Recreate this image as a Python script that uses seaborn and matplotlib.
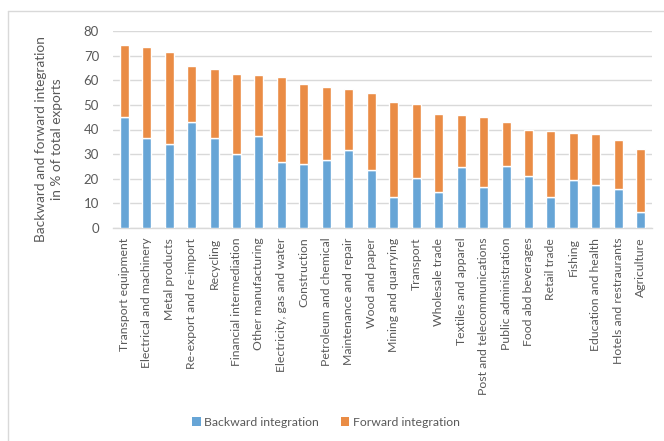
import matplotlib
matplotlib.use("Agg")
import matplotlib.pyplot as plt
import seaborn as sns
import numpy as np
import pandas as pd
from matplotlib.lines import Line2D
from matplotlib.patches import Patch

categories = [
    "Transport equipment", "Electrical and machinery", "Metal products",
    "Re-export and re-import", "Recycling", "Financial intermediation",
    "Other manufacturing", "Electricity, gas and water", "Construction",
    "Petroleum and chemical", "Maintenance and repair", "Wood and paper",
    "Mining and quarrying", "Transport", "Wholesale trade",
    "Textiles and apparel", "Post and telecommunications",
    "Public administration", "Food abd beverages", "Retail trade",
    "Fishing", "Education and health", "Hotels and restraurants",
    "Agriculture",
]
backward = [45.2, 36.7, 34.2, 43.0, 36.4, 29.9, 37.5, 26.9, 26.1, 27.6, 31.7,
            23.6, 12.7, 20.3, 14.5, 24.6, 16.8, 25.0, 21.0, 12.7, 19.5, 17.3,
            16.0, 6.5]
forward = [29.2, 36.7, 37.3, 22.9, 28.0, 32.8, 24.8, 34.3, 32.5, 29.8, 24.7,
           31.1, 38.3, 29.9, 31.7, 21.2, 28.3, 17.9, 18.9, 26.6, 18.9, 20.7,
           19.7, 25.6]
yticks = [0, 10, 20, 30, 40, 50, 60, 70, 80]

BLUE = "#67a5d6"
ORANGE = "#ea8c45"
GREY = "#595959"

sns.set_theme(style="white")
plt.rcParams["font.family"] = ["Lato", "DejaVu Sans"]

df = pd.DataFrame({"cat": categories, "backward": backward, "forward": forward})

fig = plt.figure(figsize=(6.64, 4.41), dpi=100)
ax = fig.add_axes([113 / 664, 1 - 228 / 441, (652 - 113) / 664, (228 - 31) / 441])

sns.barplot(data=df, x="cat", y="backward", color=BLUE, width=0.4,
            saturation=1, ax=ax, zorder=3)
sns.barplot(data=df, x="cat", y="forward", color=ORANGE, width=0.4,
            saturation=1, ax=ax, bottom=df["backward"].values, zorder=3)

ax.set_ylim(0, 80)
ax.set_xlim(-0.5, len(categories) - 0.5)
ax.set_yticks(yticks)
ax.yaxis.grid(True, color="#d9d9d9", linewidth=1, zorder=0)
ax.set_axisbelow(True)
for s in ["top", "right", "left"]:
    ax.spines[s].set_visible(False)
ax.spines["bottom"].set_color("#d9d9d9")
ax.spines["bottom"].set_linewidth(1)
ax.tick_params(axis="both", length=0, colors=GREY)
ax.tick_params(axis="y", labelsize=9.5, pad=10)
ax.set_xticks(range(len(categories)))
ax.set_xticklabels(categories, rotation=90, fontsize=8.8, color=GREY)
ax.tick_params(axis="x", pad=7)
ax.set_xlabel("")
ax.set_ylabel("")

fig.text(49 / 664, 1 - 139 / 441,
         "Backward and forward integration\nin % of total exports",
         rotation=90, ha="center", va="center", multialignment="center",
         fontsize=9.8, color=GREY, linespacing=1.35)

handles = [Patch(facecolor=BLUE, edgecolor="none"),
           Patch(facecolor=ORANGE, edgecolor="none")]
fig.legend(handles, ["Backward integration", "Forward integration"],
           loc="center", bbox_to_anchor=(326 / 664, 1 - 422 / 441), ncol=2,
           frameon=False, fontsize=8.8, handlelength=0.7, handleheight=0.7,
           handletextpad=0.3, columnspacing=1.8, labelcolor=GREY)

# outer chart border (left and top visible)
fig.add_artist(Line2D([8 / 664, 8 / 664], [0, 1 - 11 / 441],
                      transform=fig.transFigure, color="#d9d9d9", linewidth=1))
fig.add_artist(Line2D([8 / 664, 1], [1 - 11 / 441, 1 - 11 / 441],
                      transform=fig.transFigure, color="#d9d9d9", linewidth=1))

fig.savefig("out.png", dpi=100)
